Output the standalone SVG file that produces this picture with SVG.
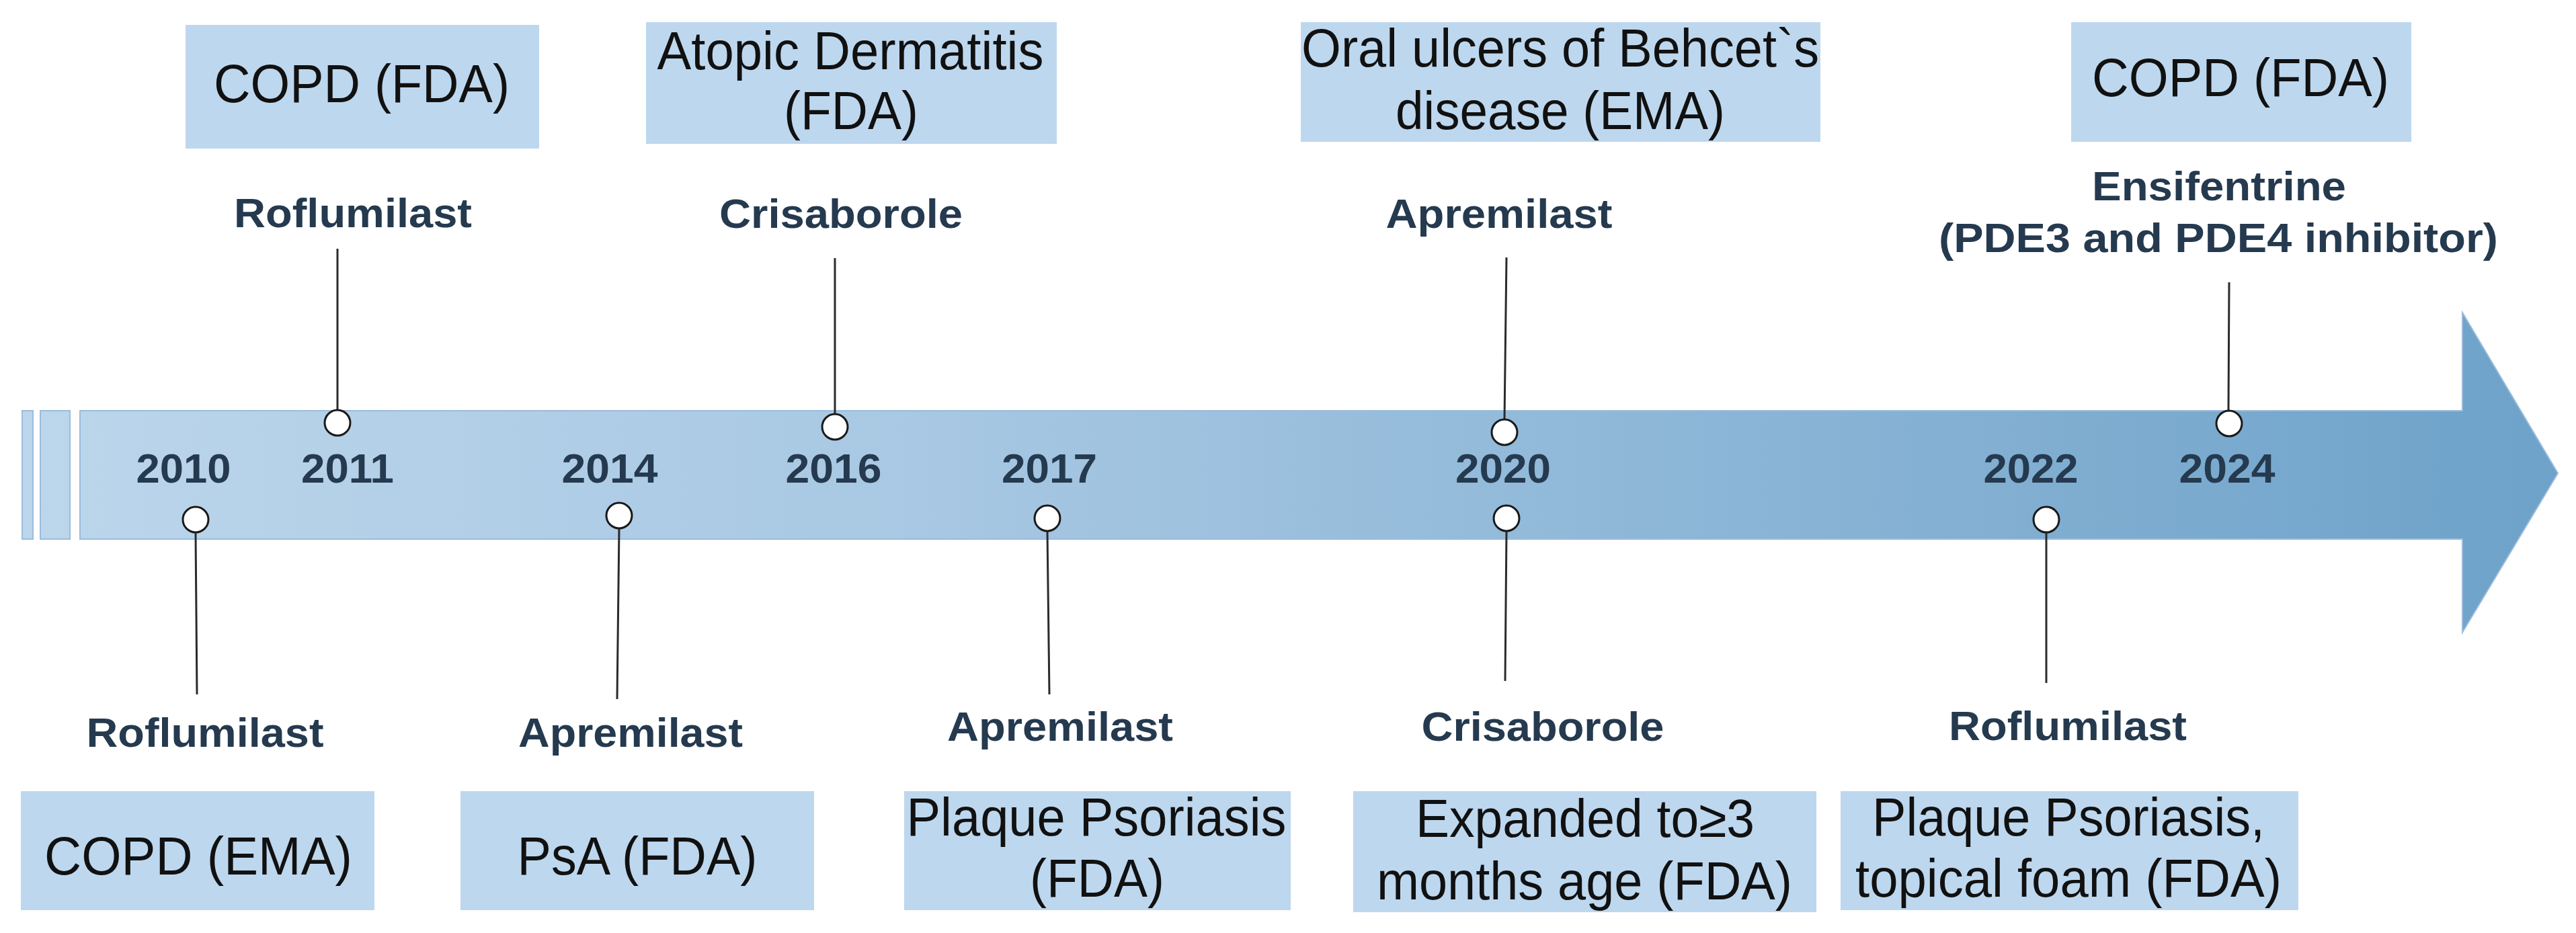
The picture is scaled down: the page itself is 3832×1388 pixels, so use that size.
<svg xmlns="http://www.w3.org/2000/svg" width="3832" height="1388" viewBox="0 0 3832 1388">
<defs>
<linearGradient id="barGrad" gradientUnits="userSpaceOnUse" x1="33" y1="0" x2="3805" y2="0">
<stop offset="0" stop-color="#bcd6eb"/>
<stop offset="0.35" stop-color="#a8c8e3"/>
<stop offset="1" stop-color="#6ea2c9"/>
</linearGradient>
<style>
.bar{fill:url(#barGrad);stroke:#9bbcdb;stroke-width:2}
.box{fill:#bdd7ee}
.boxtxt{font-family:"Liberation Sans",Arial,sans-serif;font-size:79px;fill:#111;text-anchor:middle}
.drug{font-family:"Liberation Sans",Arial,sans-serif;font-size:62px;font-weight:bold;fill:#253a4f;text-anchor:middle}
.year{font-family:"Liberation Sans",Arial,sans-serif;font-size:61px;font-weight:bold;fill:#253a4f;text-anchor:middle}
.stem{stroke:#2b2b2b;stroke-width:3;fill:none}
.dot{fill:#fff;stroke:#1a1a1a;stroke-width:3}
</style>
</defs>
<rect width="3832" height="1388" fill="#fff"/>

<g id="timeline">
<rect class="bar" x="33" y="611" width="16" height="191"/>
<rect class="bar" x="60" y="611" width="44" height="191"/>
<polygon class="bar" points="119,611 3663,611 3663,465 3805,704 3663,941 3663,802 119,802"/>
</g>

<g id="years">
<text class="year" x="273" y="718" textLength="141" lengthAdjust="spacingAndGlyphs">2010</text>
<text class="year" x="517" y="718" textLength="138" lengthAdjust="spacingAndGlyphs">2011</text>
<text class="year" x="907" y="718" textLength="143" lengthAdjust="spacingAndGlyphs">2014</text>
<text class="year" x="1240" y="718" textLength="143" lengthAdjust="spacingAndGlyphs">2016</text>
<text class="year" x="1561" y="718" textLength="142" lengthAdjust="spacingAndGlyphs">2017</text>
<text class="year" x="2236" y="718" textLength="142" lengthAdjust="spacingAndGlyphs">2020</text>
<text class="year" x="3021" y="718" textLength="141" lengthAdjust="spacingAndGlyphs">2022</text>
<text class="year" x="3313" y="718" textLength="143" lengthAdjust="spacingAndGlyphs">2024</text>
</g>

<g id="connectors">
<line class="stem" x1="502" y1="370" x2="502" y2="609"/>
<line class="stem" x1="1242" y1="384" x2="1242" y2="616"/>
<line class="stem" x1="2241" y1="383" x2="2238" y2="624"/>
<line class="stem" x1="3316" y1="420" x2="3315" y2="610"/>
<line class="stem" x1="291" y1="793" x2="293" y2="1033"/>
<line class="stem" x1="921" y1="787" x2="918" y2="1040"/>
<line class="stem" x1="1558" y1="791" x2="1561" y2="1033"/>
<line class="stem" x1="2241" y1="791" x2="2239" y2="1013"/>
<line class="stem" x1="3044" y1="793" x2="3044" y2="1016"/>
</g>

<g id="markers">
<circle class="dot" cx="502" cy="629" r="19"/>
<circle class="dot" cx="1242" cy="635" r="19"/>
<circle class="dot" cx="2238" cy="643" r="19"/>
<circle class="dot" cx="3316" cy="630" r="19"/>
<circle class="dot" cx="291" cy="773" r="19"/>
<circle class="dot" cx="921" cy="767" r="19"/>
<circle class="dot" cx="1558" cy="771" r="19"/>
<circle class="dot" cx="2241" cy="771" r="19"/>
<circle class="dot" cx="3044" cy="773" r="19"/>
</g>

<g id="node-2011">
<rect class="box" x="276" y="37" width="526" height="184"/>
<text class="boxtxt" x="538" y="152" textLength="440" lengthAdjust="spacingAndGlyphs">COPD (FDA)</text>
<text class="drug" x="525" y="338" textLength="354" lengthAdjust="spacingAndGlyphs">Roflumilast</text>
</g>

<g id="node-2016">
<rect class="box" x="961" y="33" width="611" height="181"/>
<text class="boxtxt" x="1265" y="103" textLength="575" lengthAdjust="spacingAndGlyphs">Atopic Dermatitis</text>
<text class="boxtxt" x="1266" y="192" textLength="200" lengthAdjust="spacingAndGlyphs">(FDA)</text>
<text class="drug" x="1251" y="339" textLength="362" lengthAdjust="spacingAndGlyphs">Crisaborole</text>
</g>

<g id="node-2020-top">
<rect class="box" x="1935" y="33" width="773" height="178"/>
<text class="boxtxt" x="2321" y="99" textLength="770" lengthAdjust="spacingAndGlyphs">Oral ulcers of Behcet`s</text>
<text class="boxtxt" x="2321" y="192" textLength="490" lengthAdjust="spacingAndGlyphs">disease (EMA)</text>
<text class="drug" x="2230" y="339" textLength="337" lengthAdjust="spacingAndGlyphs">Apremilast</text>
</g>

<g id="node-2024">
<rect class="box" x="3081" y="33" width="506" height="178"/>
<text class="boxtxt" x="3333" y="143" textLength="442" lengthAdjust="spacingAndGlyphs">COPD (FDA)</text>
<text class="drug" x="3301" y="298" textLength="378" lengthAdjust="spacingAndGlyphs">Ensifentrine</text>
<text class="drug" x="3300" y="375" textLength="832" lengthAdjust="spacingAndGlyphs">(PDE3 and PDE4 inhibitor)</text>
</g>

<g id="node-2010">
<rect class="box" x="31" y="1177" width="526" height="177"/>
<text class="boxtxt" x="295" y="1301" textLength="458" lengthAdjust="spacingAndGlyphs">COPD (EMA)</text>
<text class="drug" x="305" y="1111" textLength="353" lengthAdjust="spacingAndGlyphs">Roflumilast</text>
</g>

<g id="node-2014">
<rect class="box" x="685" y="1177" width="526" height="177"/>
<text class="boxtxt" x="948" y="1301" textLength="357" lengthAdjust="spacingAndGlyphs">PsA (FDA)</text>
<text class="drug" x="938" y="1111" textLength="334" lengthAdjust="spacingAndGlyphs">Apremilast</text>
</g>

<g id="node-2017">
<rect class="box" x="1345" y="1177" width="575" height="177"/>
<text class="boxtxt" x="1631" y="1243" textLength="565" lengthAdjust="spacingAndGlyphs">Plaque Psoriasis</text>
<text class="boxtxt" x="1632" y="1334" textLength="200" lengthAdjust="spacingAndGlyphs">(FDA)</text>
<text class="drug" x="1577" y="1102" textLength="336" lengthAdjust="spacingAndGlyphs">Apremilast</text>
</g>

<g id="node-2020-bottom">
<rect class="box" x="2013" y="1177" width="689" height="180"/>
<text class="boxtxt" x="2358" y="1245" textLength="504" lengthAdjust="spacingAndGlyphs">Expanded to≥3</text>
<text class="boxtxt" x="2357" y="1338" textLength="618" lengthAdjust="spacingAndGlyphs">months age (FDA)</text>
<text class="drug" x="2295" y="1102" textLength="361" lengthAdjust="spacingAndGlyphs">Crisaborole</text>
</g>

<g id="node-2022">
<rect class="box" x="2738" y="1177" width="681" height="177"/>
<text class="boxtxt" x="3077" y="1243" textLength="584" lengthAdjust="spacingAndGlyphs">Plaque Psoriasis,</text>
<text class="boxtxt" x="3077" y="1334" textLength="634" lengthAdjust="spacingAndGlyphs">topical foam (FDA)</text>
<text class="drug" x="3076" y="1101" textLength="354" lengthAdjust="spacingAndGlyphs">Roflumilast</text>
</g>
</svg>
